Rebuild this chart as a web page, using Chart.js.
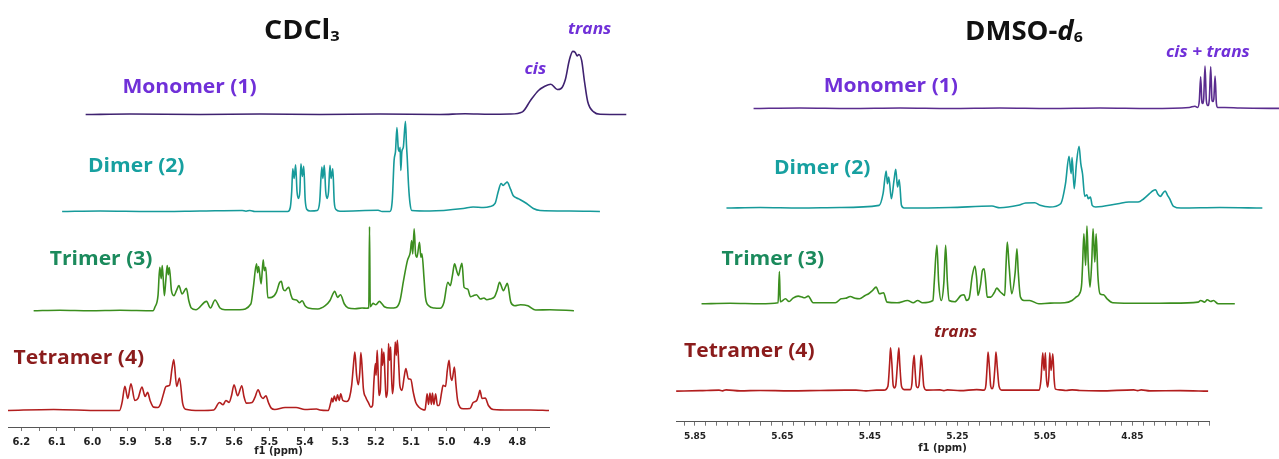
<!DOCTYPE html>
<html><head><meta charset="utf-8">
<script src="https://cdn.jsdelivr.net/npm/chart.js@4.4.0/dist/chart.umd.min.js"></script>
<style>
html,body{margin:0;padding:0;background:#fff;}
#wrap{position:relative;width:1279px;height:459px;overflow:hidden;background:#fff;}
#cL{position:absolute;left:0;top:0;}
#cR{position:absolute;left:640px;top:0;}
</style></head><body>
<div id="wrap"><canvas id="cL" width="640" height="459"></canvas><canvas id="cR" width="639" height="459"></canvas></div>
<script>
// ---------- DATA: [ppm, intensity] ----------
const CDCL3_TETRAMER = [[6.238,0],[6.109,1],[5.978,0],[5.923,0],[5.916,8],[5.908,24],[5.900,12],[5.891,26.7],[5.880,10],[5.871,12],[5.860,23.3],[5.851,14],[5.844,18],[5.837,10],[5.827,3.3],[5.815,3],[5.807,7],[5.798,18],[5.792,24],[5.782,25],[5.775,42],[5.770,50.7],[5.762,24],[5.754,32.3],[5.745,7],[5.737,1.3],[5.696,0],[5.657,0.5],[5.641,8],[5.631,5.7],[5.623,10],[5.614,8],[5.607,15],[5.600,25.7],[5.590,14.7],[5.578,24.7],[5.572,14],[5.565,7.3],[5.549,8],[5.541,13],[5.532,20.7],[5.524,14],[5.518,12],[5.510,14.7],[5.503,8],[5.495,2.3],[5.485,1],[5.456,3],[5.425,3],[5.400,1],[5.367,1.5],[5.358,0.5],[5.334,0],[5.327,8],[5.324,12.3],[5.321,8.5],[5.317,14.3],[5.312,9.5],[5.308,15.7],[5.303,10],[5.299,16.7],[5.293,10],[5.282,9],[5.274,13],[5.268,25],[5.263,45],[5.259,58.3],[5.254,35],[5.249,25.7],[5.245,38],[5.242,57.7],[5.238,40],[5.235,22],[5.228,13],[5.221,8],[5.214,3.3],[5.209,5],[5.205,30],[5.201,46.7],[5.199,35],[5.196,60],[5.193,35],[5.191,15],[5.187,20],[5.183,61.7],[5.181,45],[5.177,58.3],[5.174,35],[5.171,13],[5.167,20],[5.164,66.7],[5.161,50],[5.158,63.3],[5.156,40],[5.153,16.7],[5.150,25],[5.145,68.3],[5.142,55],[5.139,70],[5.135,45],[5.132,25],[5.126,20],[5.120,33],[5.115,41.7],[5.108,31.7],[5.101,31],[5.094,18],[5.087,8],[5.077,3],[5.068,1],[5.061,0.5],[5.058,8],[5.055,16.7],[5.051,6],[5.047,17.3],[5.043,6],[5.040,17.3],[5.036,6],[5.031,16.7],[5.026,5],[5.021,5],[5.014,18.3],[5.010,25],[5.003,24],[4.998,40],[4.993,50],[4.989,35],[4.985,30],[4.978,43.3],[4.974,27],[4.969,10],[4.962,3],[4.953,1.7],[4.934,2],[4.925,8],[4.915,10],[4.910,15],[4.906,20],[4.900,12],[4.891,12.3],[4.882,5],[4.868,1],[4.821,0.5],[4.765,0.5],[4.711,0]];
const CDCL3_TRIMER = [[6.239,0],[6.165,0.5],[6.080,0],[5.995,0.5],[5.902,0],[5.897,3.3],[5.888,15],[5.883,43.3],[5.879,32],[5.876,45],[5.870,15],[5.866,30],[5.862,45],[5.859,36],[5.856,43],[5.850,20],[5.843,15],[5.836,20],[5.829,25],[5.820,16.7],[5.808,22.3],[5.801,10],[5.794,2.7],[5.781,1],[5.751,9.3],[5.740,2.7],[5.727,10.7],[5.713,2.7],[5.699,1],[5.657,1],[5.626,6.7],[5.619,23],[5.610,46.7],[5.607,38],[5.604,44],[5.597,26.7],[5.591,50.7],[5.588,40],[5.584,43.3],[5.578,13],[5.567,13.3],[5.554,18.3],[5.545,28],[5.540,29.3],[5.535,22],[5.529,20],[5.524,22],[5.519,23.3],[5.513,16],[5.508,11.7],[5.497,10.7],[5.489,8],[5.481,10],[5.473,5],[5.464,2.7],[5.437,1.7],[5.416,5],[5.403,10],[5.389,19.3],[5.381,13.3],[5.373,16],[5.362,6.7],[5.351,2.7],[5.332,2],[5.312,2.7],[5.300,2.5],[5.293,3],[5.291,84],[5.289,4],[5.281,7.3],[5.273,6],[5.263,9.3],[5.256,7],[5.249,4],[5.232,2.7],[5.216,3.3],[5.205,10],[5.195,30],[5.184,50],[5.176,58.3],[5.172,70],[5.169,56.7],[5.165,81.7],[5.161,56.7],[5.157,53.3],[5.150,68.3],[5.146,53.3],[5.143,56.7],[5.137,31.7],[5.133,13.3],[5.124,5],[5.108,2.7],[5.092,2.5],[5.081,8.3],[5.070,28.3],[5.063,25],[5.057,35],[5.051,46.7],[5.045,40],[5.040,35],[5.035,42],[5.030,47.3],[5.024,23.3],[5.014,21.7],[5.006,14],[4.998,15],[4.989,16],[4.978,11.7],[4.968,12.7],[4.960,11],[4.951,11.7],[4.938,14],[4.931,20],[4.924,28.3],[4.913,20],[4.907,24],[4.902,27.3],[4.892,8.3],[4.881,5],[4.865,6],[4.844,5],[4.822,0.7],[4.782,1],[4.714,0]];
const CDCL3_DIMER = [[6.232,0],[6.125,0.5],[5.984,0],[5.843,0.5],[5.724,1],[5.713,0.3],[5.702,1],[5.688,0],[5.595,0],[5.588,4],[5.584,20],[5.581,42.7],[5.577,33],[5.573,46.7],[5.569,20],[5.565,13],[5.561,20],[5.558,47.7],[5.554,35],[5.550,45],[5.546,12],[5.541,2],[5.532,0.5],[5.512,1],[5.505,10],[5.499,44.3],[5.496,33],[5.492,46],[5.488,20],[5.484,13],[5.480,20],[5.476,46],[5.473,33],[5.468,42.7],[5.464,10],[5.459,2],[5.448,0.3],[5.340,1.2],[5.329,0],[5.307,0],[5.300,12],[5.295,51],[5.291,60],[5.287,83.7],[5.283,62],[5.280,60],[5.278,64],[5.276,41],[5.273,60],[5.269,64],[5.263,90],[5.260,66],[5.258,54],[5.254,25],[5.250,8],[5.245,1],[5.194,0.5],[5.100,3],[5.072,4.5],[5.043,4],[5.024,5],[5.010,8],[5.001,20],[4.993,28],[4.987,26],[4.981,28],[4.976,29.3],[4.966,22],[4.959,16],[4.949,13.5],[4.940,12],[4.921,8],[4.902,3],[4.883,1],[4.799,0.5],[4.714,0]];
const CDCL3_MONOMER = [[6.239,0],[6.114,0.5],[5.916,0],[5.747,0.5],[5.578,0],[5.408,0.5],[5.239,0],[5.168,0.8],[5.098,0.3],[5.041,0.5],[5.006,2.7],[4.983,14.3],[4.960,24.3],[4.943,28.3],[4.926,30.3],[4.908,25],[4.897,26],[4.885,35],[4.874,54],[4.864,63],[4.857,62],[4.852,58.5],[4.847,60],[4.839,54],[4.831,33],[4.822,13],[4.805,2.7],[4.787,0.3],[4.713,0]];

const DMSO_TETRAMER = [[5.893,0],[5.839,0.5],[5.795,1],[5.787,0.3],[5.779,1.3],[5.747,0.3],[5.701,0.7],[5.633,0.3],[5.564,0.7],[5.507,1],[5.482,1],[5.459,0.3],[5.435,1],[5.418,1],[5.409,5],[5.405,28],[5.403,43.3],[5.400,28],[5.397,6],[5.394,3.3],[5.391,6],[5.387,28],[5.384,43.3],[5.382,28],[5.378,5],[5.372,1.5],[5.358,1.5],[5.354,8],[5.352,24],[5.349,35.7],[5.347,22],[5.344,5],[5.341,3.5],[5.338,6],[5.335,24],[5.333,35.7],[5.330,22],[5.327,5],[5.321,1],[5.290,1.3],[5.281,0.5],[5.273,1.3],[5.244,0.5],[5.206,1.5],[5.189,1],[5.185,6],[5.182,26],[5.180,39],[5.177,24],[5.174,5],[5.171,2.5],[5.168,5],[5.164,26],[5.162,39],[5.159,24],[5.155,5],[5.149,1],[5.063,1],[5.059,12],[5.055,38.3],[5.052,20.7],[5.049,38.3],[5.047,15],[5.044,4],[5.041,15],[5.039,38.3],[5.036,20.7],[5.032,37.3],[5.029,12],[5.026,2],[5.016,1.3],[5.002,0.7],[4.988,1.3],[4.970,0.7],[4.924,0.3],[4.847,1.3],[4.838,0.5],[4.830,1.3],[4.810,0.3],[4.741,0.5],[4.677,0]];
const DMSO_TRIMER = [[5.894,0],[5.829,0.5],[5.760,0],[5.719,1],[5.716,32.3],[5.714,2],[5.702,5],[5.694,2.3],[5.685,5.7],[5.673,7.7],[5.664,6.7],[5.658,6],[5.650,7.7],[5.639,1],[5.588,1],[5.575,5],[5.565,5.5],[5.554,7.3],[5.543,5.5],[5.533,5],[5.520,8.3],[5.512,10],[5.503,13.3],[5.495,16.7],[5.487,10],[5.478,11],[5.470,1.7],[5.447,1],[5.423,3.3],[5.410,1],[5.400,3.3],[5.389,1],[5.365,3.3],[5.362,21.7],[5.356,58.3],[5.352,21.7],[5.346,3.3],[5.340,21.7],[5.336,58.3],[5.332,21.7],[5.328,3.3],[5.315,2],[5.301,8.3],[5.294,9],[5.288,3.3],[5.282,6],[5.275,28.3],[5.269,37.7],[5.265,25],[5.262,8.3],[5.256,20],[5.252,33.3],[5.248,35],[5.244,20],[5.241,6.7],[5.233,6.7],[5.225,11],[5.219,15.7],[5.212,12.3],[5.206,10],[5.201,8.3],[5.198,38.3],[5.195,61.7],[5.191,38.3],[5.185,10],[5.177,31.7],[5.173,55],[5.170,31.7],[5.165,6.7],[5.157,3.3],[5.144,3.3],[5.123,0],[5.097,0.7],[5.064,1],[5.047,3.3],[5.038,6.7],[5.030,10],[5.025,20],[5.023,38.3],[5.020,70],[5.016,38.3],[5.013,77.7],[5.010,41.7],[5.006,16.7],[5.002,41.7],[4.999,75],[4.995,41.7],[4.992,70],[4.988,28.3],[4.983,10],[4.975,9],[4.967,5],[4.954,1],[4.892,0.5],[4.823,0.7],[4.759,1.7],[4.753,3.3],[4.744,1.7],[4.738,4],[4.730,2.3],[4.724,3.3],[4.713,0],[4.675,0]];
const DMSO_DIMER = [[5.896,0],[5.819,0.5],[5.728,0],[5.637,0.5],[5.547,2.7],[5.538,14.3],[5.531,37],[5.528,24.3],[5.525,31],[5.519,9.3],[5.513,27.7],[5.509,38.7],[5.505,21],[5.501,28.3],[5.496,2.7],[5.490,0],[5.385,0.5],[5.289,2],[5.271,0.3],[5.229,2.7],[5.212,5],[5.191,5.3],[5.179,2.7],[5.157,1],[5.132,4.3],[5.121,24.3],[5.113,51.7],[5.108,34.3],[5.106,50.3],[5.101,19.3],[5.096,44.3],[5.090,61.7],[5.086,44.3],[5.082,34],[5.077,11.7],[5.072,13.3],[5.069,9.3],[5.064,11],[5.060,2.7],[5.052,1],[5.001,4.3],[4.976,6],[4.955,6],[4.942,9.3],[4.929,14.3],[4.922,17],[4.915,18.3],[4.910,14],[4.904,11.7],[4.898,15],[4.893,17],[4.888,13],[4.883,9.3],[4.874,1.7],[4.857,0],[4.768,0.5],[4.671,0]];
const DMSO_MONOMER = [[5.893,0],[5.787,0.5],[5.673,0],[5.558,0.5],[5.444,0],[5.330,0.5],[5.216,0],[5.101,0.5],[4.987,0],[4.897,1],[4.884,2.3],[4.878,1],[4.874,8],[4.871,31.7],[4.868,6],[4.866,5],[4.864,10],[4.861,42.3],[4.858,8],[4.855,3],[4.853,3.5],[4.851,10],[4.848,41.7],[4.845,8],[4.843,7],[4.841,9],[4.838,32.3],[4.835,5],[4.832,1],[4.816,1],[4.781,0.5],[4.676,0]];

const SPECTRUM_NAMES = ['Tetramer (4)', 'Trimer (3)', 'Dimer (2)', 'Monomer (1)'];
const CDCL3_TICK_STEP = 0.05;   // labels every 0.1 ppm
const DMSO_TICK_STEP = 0.025;   // labels every 0.2 ppm from 5.85

// ---------- styling / layout ----------
const LINE_COLORS_L = ['#b21e1e', '#3b8e1e', '#169a9a', '#3f2270'];
const LINE_COLORS_R = ['#b21e1e', '#3b8e1e', '#169a9a', '#5a2c8e'];
const NAME_COLORS = ['#8b1c1c', '#1b8a5c', '#17a0a0', '#7030d8'];
const SX = 1.08;
const LBL = 'bold 19.5px "Open Sans"';
const ITL = 'italic bold 16px "Open Sans"';
const TTL = 'bold 26px "Open Sans"';

const textPlugin = {
  id: 'texts',
  afterDraw(chart, args, opts) {
    const ctx = chart.ctx;
    (opts.items || []).forEach(it => {
      ctx.save();
      ctx.translate(it.x, it.y);
      ctx.scale(it.sx || 1, 1);
      ctx.fillStyle = it.color;
      ctx.textBaseline = 'alphabetic';
      ctx.textAlign = 'left';
      let cx = 0;
      it.parts.forEach(p => {
        ctx.font = p.font;
        ctx.fillText(p.t, cx, p.dy || 0);
        cx += ctx.measureText(p.t).width;
      });
      ctx.restore();
    });
  }
};

function makeChart(id, o) {
  const scales = {
    x: {
      type: 'linear', position: 'bottom', reverse: true, min: o.axis.min, max: o.axis.max,
      ticks: { stepSize: o.step, includeBounds: false, autoSkip: false, maxRotation: 0, minRotation: 0,
        maxTicksLimit: 1000, padding: o.tickPad, color: '#222',
        font: { family: '"DejaVu Sans"', weight: 'bold', size: o.tickSize, lineHeight: 1.2 },
        callback: o.tickCb },
      grid: { drawOnChartArea: false, drawTicks: true, tickLength: 4, color: '#777', tickColor: '#777', tickWidth: 1 },
      border: { display: true, color: '#555', width: 1 },
      title: { display: true, text: 'f1 (ppm)', color: '#222',
        font: { family: '"DejaVu Sans"', weight: 'bold', size: 10, lineHeight: 1.2 }, padding: o.titlePad }
    },
    y: { type: 'linear', display: false, min: 0, max: o.H }
  };
  for (let k = 1; k < 4; k++) {
    const d = o.shifts[k] / o.pxPerPpm;
    scales['x' + k] = { type: 'linear', display: false, reverse: true, position: 'bottom',
      min: o.axis.min + d, max: o.axis.max + d };
  }
  const datasets = o.spectra.map((pts, i) => ({
    data: pts.map(p => ({ x: p[0], y: o.offsets[i] + p[1] })),
    xAxisID: i ? 'x' + i : 'x', yAxisID: 'y',
    borderColor: o.colors[i], borderWidth: 1.6, pointRadius: 0, pointHoverRadius: 0,
    fill: false, cubicInterpolationMode: 'monotone', clip: false
  }));
  return new Chart(document.getElementById(id), {
    type: 'line',
    data: { datasets },
    options: {
      responsive: false, animation: false, devicePixelRatio: 1, events: [],
      layout: { padding: o.padding },
      plugins: { legend: { display: false }, tooltip: { enabled: false }, texts: { items: o.texts } },
      scales
    },
    plugins: [textPlugin]
  });
}

// ---------- left panel: CDCl3 ----------
makeChart('cL', {
  axis: { min: 4.711, max: 6.238 }, step: CDCL3_TICK_STEP, pxPerPpm: 354.3,
  shifts: [0, 26, 52, 78], H: 426, offsets: [16.5, 116, 215, 311.7],
  spectra: [CDCL3_TETRAMER, CDCL3_TRIMER, CDCL3_DIMER, CDCL3_MONOMER], colors: LINE_COLORS_L,
  tickPad: 5, tickSize: 10, titlePad: { top: -8, bottom: 2 },
  padding: { left: 8, right: 91, top: 0, bottom: 0 },
  tickCb: v => (Math.abs(v * 10 - Math.round(v * 10)) < 1e-6 ? v.toFixed(1) : ''),
  texts: [
    { x: 264, y: 39, color: '#111', sx: 1.1, parts: [{ t: 'CDCl', font: TTL }, { t: '3', font: 'bold 15px "Open Sans"', dy: 2 }] },
    { x: 122.4, y: 93, color: NAME_COLORS[3], sx: SX, parts: [{ t: SPECTRUM_NAMES[3], font: LBL }] },
    { x: 524.5, y: 74, color: NAME_COLORS[3], sx: SX, parts: [{ t: 'cis', font: ITL }] },
    { x: 568, y: 34, color: NAME_COLORS[3], sx: SX, parts: [{ t: 'trans', font: ITL }] },
    { x: 88, y: 172, color: NAME_COLORS[2], sx: SX, parts: [{ t: SPECTRUM_NAMES[2], font: LBL }] },
    { x: 49.8, y: 265, color: NAME_COLORS[1], sx: SX, parts: [{ t: SPECTRUM_NAMES[1], font: LBL }] },
    { x: 13.6, y: 364, color: NAME_COLORS[0], sx: SX, parts: [{ t: SPECTRUM_NAMES[0], font: LBL }] }
  ]
});

// ---------- right panel: DMSO-d6 ----------
makeChart('cR', {
  axis: { min: 4.675, max: 5.8934 }, step: DMSO_TICK_STEP, pxPerPpm: 437.5,
  shifts: [0, 25.8, 51.6, 77.4], H: 421, offsets: [30.5, 117.7, 213.3, 312.7],
  spectra: [DMSO_TETRAMER, DMSO_TRIMER, DMSO_DIMER, DMSO_MONOMER], colors: LINE_COLORS_R,
  tickPad: 6, tickSize: 9, titlePad: { top: -6, bottom: 4.5 },
  padding: { left: 36, right: 70, top: 0, bottom: 0 },
  tickCb: v => { const k = (5.85 - v) / 0.2; return Math.abs(k - Math.round(k)) < 1e-6 ? v.toFixed(2) : ''; },
  texts: [
    { x: 325, y: 40, color: '#111', sx: 1.06, parts: [{ t: 'DMSO-', font: TTL }, { t: 'd', font: 'italic bold 26px "Open Sans"' }, { t: '6', font: 'bold 15px "Open Sans"', dy: 2 }] },
    { x: 526, y: 57, color: NAME_COLORS[3], sx: SX, parts: [{ t: 'cis + trans', font: ITL }] },
    { x: 183.7, y: 92, color: NAME_COLORS[3], sx: SX, parts: [{ t: SPECTRUM_NAMES[3], font: LBL }] },
    { x: 134, y: 173.5, color: NAME_COLORS[2], sx: SX, parts: [{ t: SPECTRUM_NAMES[2], font: LBL }] },
    { x: 81.4, y: 265, color: NAME_COLORS[1], sx: SX, parts: [{ t: SPECTRUM_NAMES[1], font: LBL }] },
    { x: 44, y: 357, color: NAME_COLORS[0], sx: SX, parts: [{ t: SPECTRUM_NAMES[0], font: LBL }] },
    { x: 294, y: 336.5, color: NAME_COLORS[0], sx: SX, parts: [{ t: 'trans', font: ITL }] }
  ]
});
</script></body></html>
